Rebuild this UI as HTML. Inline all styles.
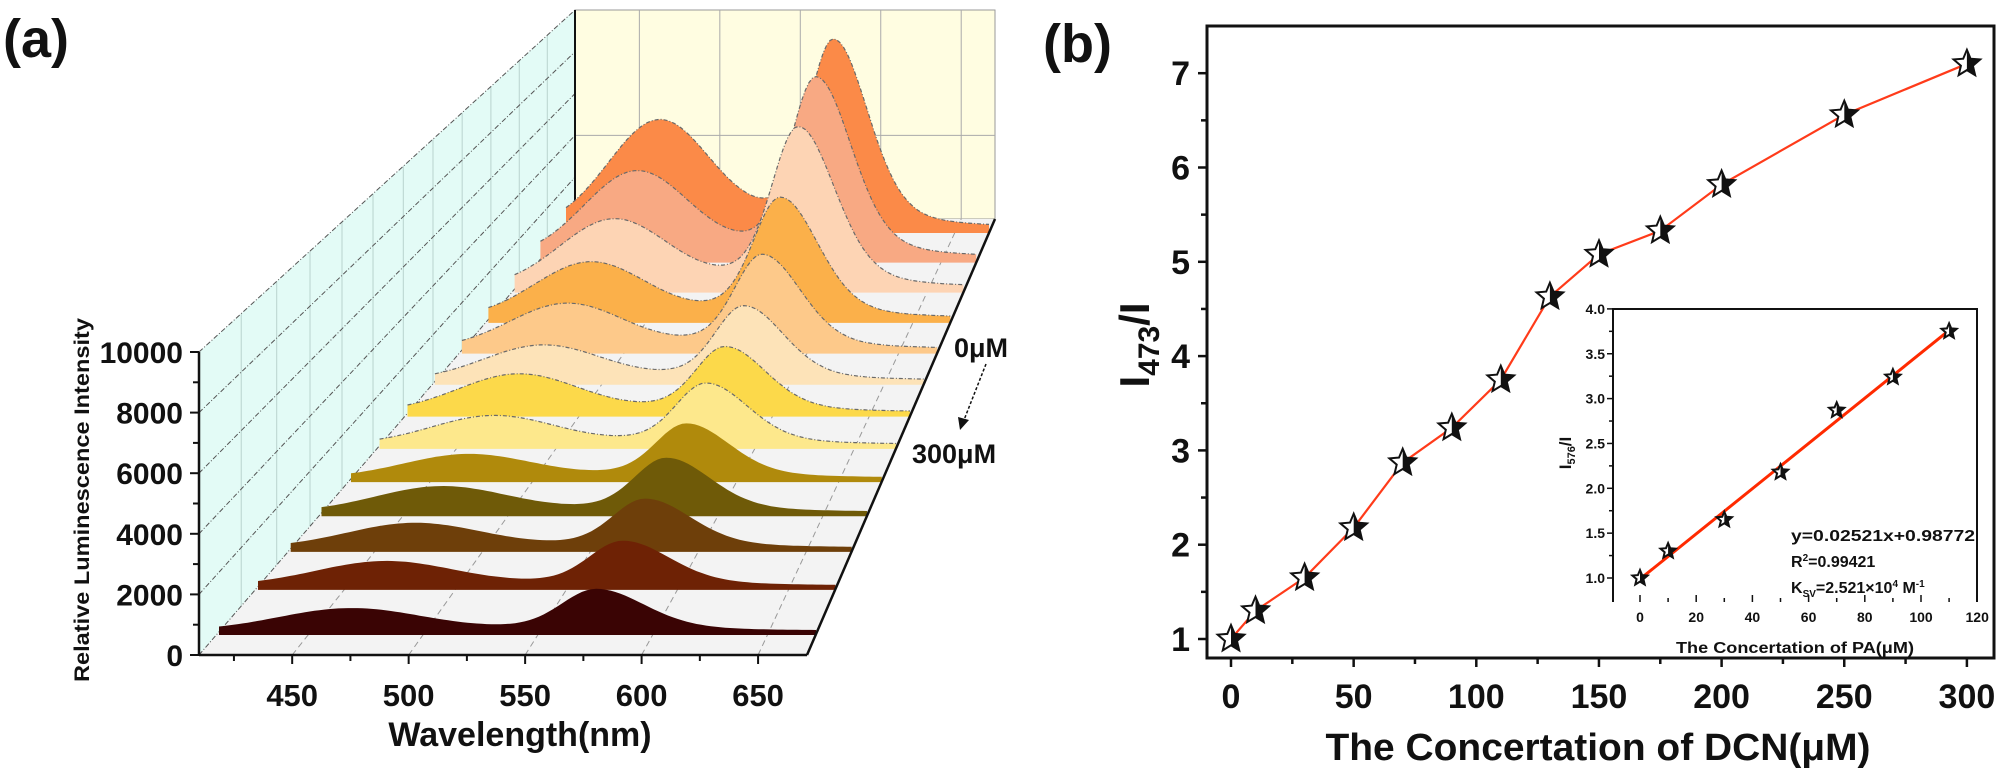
<!DOCTYPE html>
<html><head><meta charset="utf-8">
<style>
html,body{margin:0;padding:0;background:#fff;}
svg{display:block;font-family:"Liberation Sans",Arial,sans-serif;}
</style></head>
<body>
<svg id="fig" width="2000" height="773" viewBox="0 0 2000 773" xmlns="http://www.w3.org/2000/svg">
  <defs>
    <clipPath id="rightHalf"><rect x="0" y="-50" width="50" height="100"/></clipPath>
  </defs>
  <g id="panelA"></g>
  <g id="panelB"></g>
</svg>
<script>
// ---------- Panel (a) data ----------
const concentrations = ["0","10","30","50","70","90","110","130","150","175","200","250","300"];
const peak473 = [4930,3820,2930,2340,1850,1390,1470,1080,860,910,850,820,730];
const peak576 = [8840,8220,7110,5190,3950,3030,2590,2360,2030,1970,1730,1540,1390];
const sliceColors = ["#fb8a48","#f8a983","#fdd4b4","#fbb04a","#fdc98a","#fde3b8","#fcd94a","#fde88c","#b08a0c","#6f5a08","#6e3f0a","#6e2205","#3a0404"];
const wlTicks = [450,500,550,600,650];
const intTicks = [0,2000,4000,6000,8000,10000];

// ---------- Panel (b) data ----------
const dcnConc = [0,10,30,50,70,90,110,130,150,175,200,250,300];
const ratio473 = [1.0,1.3,1.65,2.18,2.87,3.24,3.75,4.63,5.08,5.33,5.82,6.56,7.1];
const mainXTicks = [0,50,100,150,200,250,300];
const mainYTicks = [1,2,3,4,5,6,7];
const paConc = [0,10,30,50,70,90,110];
const ratio576 = [1.0,1.3,1.65,2.18,2.87,3.24,3.75];
const fitSlope = [0.02521];
const fitIntercept = [0.98772];
const insetXTicks = [0,20,40,60,80,100,120];
const insetYTicks = ["1.0","1.5","2.0","2.5","3.0","3.5","4.0"];

const NS = "http://www.w3.org/2000/svg";
function mk(tag, attrs, parent, text){
  const e = document.createElementNS(NS, tag);
  for (const k in attrs) e.setAttribute(k, attrs[k]);
  if (text !== undefined) e.textContent = text;
  parent.appendChild(e);
  return e;
}
const A = document.getElementById('panelA');
const B = document.getElementById('panelB');

// ======== PANEL A ========
// geometry
const FL=199, FR=807, FB=655, FT=352;      // front axis box
const BKL=575, BKR=995, BKB=219, BKT=10;    // back panel
const WL0=410, WL1=671;
function frontX(l){ return FL + (l-WL0)/(WL1-WL0)*(FR-FL); }
function frontY(v){ return FB - v/10000*(FB-FT); }
function backX(l){ return BKL + (l-WL0)/(WL1-WL0)*(BKR-BKL); }
function backY(v){ return BKB - v/10000*(BKB-BKT); }

// left wall
let e;
e = mk('polygon',{points:`${FL},${FT} ${BKL},${BKT} ${BKL},${BKB} ${FL},${FB}`,fill:'#e3fbf6',stroke:'none'},A);
 
// back panel
e = mk('rect',{x:BKL,y:BKT,width:BKR-BKL,height:BKB-BKT,fill:'#fffde1',stroke:'#999','stroke-width':1},A);
 
// floor
e = mk('polygon',{points:`${FL},${FB} ${FR},${FB} ${BKR},${BKB} ${BKL},${BKB}`,fill:'#f3f3f3',stroke:'none'},A);
 

// baselines of slices (depth)
const sliceBase = [];
for (let i=0;i<concentrations.length;i++){
  const f = 1 - i/(concentrations.length-1);
  // non-uniform perspective spacing
  const yb = 631 - Math.pow(f,0.88)*402;
  sliceBase.push(yb);
}
function sliceGeom(i){
  const yb = sliceBase[i];
  const f = (631-yb)/402;
  const xl = 219 + f*347, xr = 816 + f*173;
  const s = (xr-xl)/597;
  return {yb,xl,xr,s};
}
// wall vertical grid lines at slice depths
for (let i=0;i<concentrations.length;i++){
  const f=(631-sliceBase[i])/402;
  const x = FL + f*(BKL-FL);
  const yTop = FT + (x-FL)/(BKL-FL)*(BKT-FT);
  const yBot = FB + (x-FL)/(BKL-FL)*(BKB-FB);
  e = mk('line',{x1:x,y1:yTop,x2:x,y2:yBot,stroke:'#b9d3ce','stroke-width':1},A);
   
}
// wall horizontal gridlines
intTicks.forEach(v=>{
  e = mk('line',{x1:FL,y1:frontY(v),x2:BKL,y2:backY(v),stroke:'#555','stroke-width':1,'stroke-dasharray':'5,2,1,2'},A);
   
});
// back grid
wlTicks.forEach(l=>{
  e = mk('line',{x1:backX(l),y1:BKT,x2:backX(l),y2:BKB,stroke:'#aaa','stroke-width':1},A);
   
  e = mk('line',{x1:frontX(l),y1:FB,x2:backX(l),y2:BKB,stroke:'#999','stroke-width':1,'stroke-dasharray':'6,4'},A);
   
});
e = mk('line',{x1:BKL,y1:backY(4000),x2:BKR,y2:backY(4000),stroke:'#aaa','stroke-width':1},A);
 
e = mk('line',{x1:BKL,y1:BKT,x2:BKL,y2:BKB,stroke:'#111','stroke-width':2},A);
 

// spectral band shapes
function band(l, i){
  const d1 = l-475;
  const g1 = Math.exp(-(d1*d1)/(2*30*30));
  const d2 = l-578;
  const sg = d2<0?14:20;
  const g2 = 0.75*Math.exp(-(d2*d2)/(2*sg*sg)) + 0.25/(1+(d2/30)*(d2/30));
  return peak473[i]*g1 + peak576[i]*g2;
}
for (let i=0;i<concentrations.length;i++){
  const g = sliceGeom(i);
  const pts=[];
  for (let l=420;l<=670;l+=2){
    const x = g.xl + (l-420)/250*(g.xr-g.xl);
    const y = g.yb - band(l,i)/10000*303*g.s;
    pts.push(x.toFixed(1)+','+y.toFixed(1));
  }
  const poly = `${g.xl.toFixed(1)},${(g.yb+4).toFixed(1)} ${g.xl.toFixed(1)},${g.yb.toFixed(1)} `+pts.join(' ')+` ${g.xr.toFixed(1)},${(g.yb+4).toFixed(1)}`;
  e = mk('polygon',{points:poly,fill:sliceColors[i],stroke:'none'},A);
   
  if (i<8){
    e = mk('polyline',{points:pts.join(' '),fill:'none',stroke:'#6a6a6a','stroke-width':1.2,'stroke-dasharray':'4,2,1,2'},A);
     
  }
}
// front axes
e = mk('line',{x1:FR,y1:FB,x2:BKR,y2:BKB,stroke:'#111','stroke-width':2.5},A);
 
e = mk('line',{x1:FL,y1:FB,x2:FR,y2:FB,stroke:'#111','stroke-width':2.5},A);
 
e = mk('line',{x1:FL,y1:FT,x2:FL,y2:FB,stroke:'#111','stroke-width':2.5},A);
 
for (let l=425;l<=670;l+=25){
  const maj = wlTicks.includes(l);
  e = mk('line',{x1:frontX(l),y1:FB,x2:frontX(l),y2:FB+(maj?9:6),stroke:'#111','stroke-width':2},A);
   
}
wlTicks.forEach(l=>{
  e = mk('text',{x:frontX(l),y:706,'font-size':31,'font-weight':'bold','text-anchor':'middle',fill:'#111'},A,String(l));
   
});
for (let v=0;v<=10000;v+=1000){
  const maj = v%2000===0;
  e = mk('line',{x1:FL-(maj?9:6),y1:frontY(v),x2:FL,y2:frontY(v),stroke:'#111','stroke-width':2},A);
   
}
intTicks.forEach(v=>{
  e = mk('text',{x:183,y:frontY(v)+11,'font-size':30,'font-weight':'bold','text-anchor':'end',fill:'#111'},A,String(v));
   
});
e = mk('text',{x:520,y:746,'font-size':34,'font-weight':'bold','text-anchor':'middle',fill:'#111'},A,'Wavelength(nm)');
 
e = mk('text',{x:0,y:0,'font-size':21,'font-weight':'bold','text-anchor':'middle',fill:'#111',transform:'translate(89,500) rotate(-90)',textLength:364,lengthAdjust:'spacingAndGlyphs'},A,'Relative Luminescence Intensity');
 
e = mk('text',{x:3,y:57,'font-size':54,'font-weight':'bold',fill:'#111'},A,'(a)');
 
e = mk('text',{x:954,y:357,'font-size':27,'font-weight':'bold',fill:'#111'},A,'0μM');
 
e = mk('text',{x:912,y:463,'font-size':27,'font-weight':'bold',fill:'#111'},A,'300μM');
 
e = mk('line',{x1:986,y1:364,x2:964,y2:420,stroke:'#111','stroke-width':1.5,'stroke-dasharray':'3,2'},A);
 
e = mk('polygon',{points:'960,430 958,417 969,420',fill:'#111'},A);
 

// ======== PANEL B ========
const X = c => 1231 + c*2.453;
const Y = v => 639 - (v-1)*94.3;
const FRM = {l:1207,r:1994,t:26,b:658};
e = mk('rect',{x:FRM.l,y:FRM.t,width:FRM.r-FRM.l,height:FRM.b-FRM.t,fill:'none',stroke:'#111','stroke-width':3},B);
 
for (let v=1;v<=7.01;v+=0.5){
  const maj = Math.abs(v-Math.round(v))<0.01;
  e = mk('line',{x1:FRM.l-(maj?9:6),y1:Y(v),x2:FRM.l,y2:Y(v),stroke:'#111','stroke-width':2.5},B);
   
}
mainYTicks.forEach(v=>{
  e = mk('text',{x:1190,y:Y(v)+12,'font-size':34,'font-weight':'bold','text-anchor':'end',fill:'#111'},B,String(v));
   
});
for (let c=0;c<=300;c+=25){
  const maj = c%50===0;
  e = mk('line',{x1:X(c),y1:FRM.b,x2:X(c),y2:FRM.b+(maj?9:6),stroke:'#111','stroke-width':2.5},B);
   
}
mainXTicks.forEach(c=>{
  e = mk('text',{x:X(c),y:708,'font-size':34,'font-weight':'bold','text-anchor':'middle',fill:'#111'},B,String(c));
   
});
e = mk('text',{x:1598,y:760,'font-size':38,'font-weight':'bold','text-anchor':'middle',fill:'#111',textLength:545,lengthAdjust:'spacingAndGlyphs'},B,'The Concertation of DCN(μM)');
 
const yt = mk('text',{x:0,y:0,'font-size':42,'font-weight':'bold','text-anchor':'middle',fill:'#111',transform:'translate(1149,345) rotate(-90)'},B);
 
mk('tspan',{},yt,'I');
mk('tspan',{'font-size':30,dy:10},yt,'473');
mk('tspan',{dy:-10},yt,'/I');
e = mk('text',{x:1043,y:62,'font-size':54,'font-weight':'bold',fill:'#111'},B,'(b)');
 

function star(cx,cy,r,parent,name){
  const pts=[];
  for (let k=0;k<10;k++){
    const ang = -Math.PI/2 + k*Math.PI/5;
    const rr = k%2===0?r:r*0.45;
    pts.push((rr*Math.cos(ang)).toFixed(2)+','+(rr*Math.sin(ang)).toFixed(2));
  }
  const g = mk('g',{transform:`translate(${cx.toFixed(1)},${cy.toFixed(1)})`},parent);
   
  mk('polygon',{points:pts.join(' '),fill:'#fff',stroke:'#111','stroke-width':2},g);
  mk('polygon',{points:pts.join(' '),fill:'#111','clip-path':'url(#rightHalf)'},g);
}
// main line
e = mk('polyline',{points:dcnConc.map((c,i)=>X(c).toFixed(1)+','+Y(ratio473[i]).toFixed(1)).join(' '),fill:'none',stroke:'#ff3b1a','stroke-width':2.2},B);
 
dcnConc.forEach((c,i)=>star(X(c),Y(ratio473[i]),14,B,'dcn-point'));

// inset
const IX = c => 1640 + c*2.81;
const IY = v => 578 - (v-1)*89.7;
const IF = {l:1613,r:1977,t:309,b:602};
e = mk('polyline',{points:`${IF.l},${IF.b} ${IF.l},${IF.t} ${IF.r},${IF.t} ${IF.r},${IF.b}`,fill:'#fff',stroke:'#111','stroke-width':2},B);
 
for (let v=1;v<=4.01;v+=0.25){
  const maj = Math.abs(v*2-Math.round(v*2))<0.01;
  e = mk('line',{x1:IF.l-(maj?6:4),y1:IY(v),x2:IF.l,y2:IY(v),stroke:'#111','stroke-width':1.5},B);
   
}
insetYTicks.forEach(t=>{
  e = mk('text',{x:1605,y:IY(parseFloat(t))+5,'font-size':14,'font-weight':'bold','text-anchor':'end',fill:'#111'},B,t);
   
});
for (let c=0;c<=120;c+=10){
  const maj = c%20===0;
  e = mk('line',{x1:IX(c),y1:IF.b-(maj?7:4),x2:IX(c),y2:IF.b,stroke:'#111','stroke-width':1.5},B);
   
}
insetXTicks.forEach(c=>{
  e = mk('text',{x:IX(c),y:622,'font-size':14,'font-weight':'bold','text-anchor':'middle',fill:'#111'},B,String(c));
   
});
e = mk('text',{x:1795,y:653,'font-size':16,'font-weight':'bold','text-anchor':'middle',fill:'#111',textLength:238,lengthAdjust:'spacingAndGlyphs'},B,'The Concertation of PA(μM)');
 
const iyt = mk('text',{x:0,y:0,'font-size':17,'font-weight':'bold','text-anchor':'middle',fill:'#111',transform:'translate(1571,453) rotate(-90)'},B);
 
mk('tspan',{},iyt,'I');
mk('tspan',{'font-size':11,dy:4},iyt,'576');
mk('tspan',{dy:-4},iyt,'/I');
// fit line
e = mk('line',{x1:IX(0),y1:IY(fitIntercept[0]),x2:IX(110),y2:IY(fitSlope[0]*110+fitIntercept[0]),stroke:'#ff2a00','stroke-width':3},B);
 
paConc.forEach((c,i)=>star(IX(c),IY(ratio576[i]),8,B,'inset-point'));
const ann = [['y=0.02521x+0.98772',541]];
e = mk('text',{x:1791,y:541,'font-size':16,'font-weight':'bold',fill:'#111',textLength:184,lengthAdjust:'spacingAndGlyphs'},B,'y=0.02521x+0.98772');
 
const r2 = mk('text',{x:1791,y:567,'font-size':16,'font-weight':'bold',fill:'#111'},B);
 
mk('tspan',{},r2,'R');
mk('tspan',{'font-size':10,dy:-6},r2,'2');
mk('tspan',{dy:6},r2,'=0.99421');
const ks = mk('text',{x:1791,y:593,'font-size':16,'font-weight':'bold',fill:'#111'},B);
 
mk('tspan',{},ks,'K');
mk('tspan',{'font-size':10,dy:4},ks,'SV');
mk('tspan',{dy:-4},ks,'=2.521×10');
mk('tspan',{'font-size':10,dy:-6},ks,'4');
mk('tspan',{dy:6},ks,' M');
mk('tspan',{'font-size':10,dy:-6},ks,'-1');
</script>
</body></html>
